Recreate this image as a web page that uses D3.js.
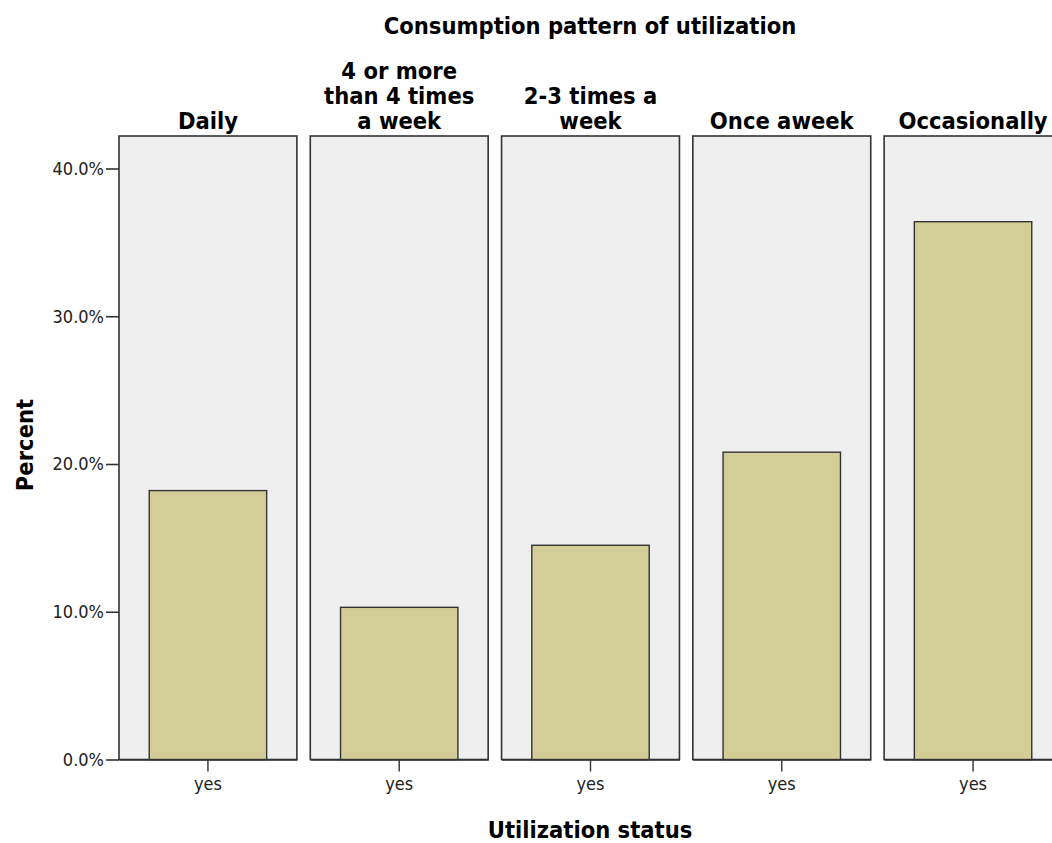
<!DOCTYPE html>
<html>
<head>
<meta charset="utf-8">
<script src="https://cdn.jsdelivr.net/npm/d3@7"></script>
<style>
  body { margin: 0; background: #fff; }
  text { font-family: "DejaVu Sans Condensed", "DejaVu Sans", sans-serif; font-stretch: condensed; }
</style>
</head>
<body>
<svg id="chart" width="1052" height="843"></svg>
<script>
// panels (facets) and the single bar each one holds
var panels = ["Daily", "4 or more than 4 times a week", "2-3 times a week", "Once aweek", "Occasionally"];
var panelLines = [["Daily"], ["4 or more", "than 4 times", "a week"], ["2-3 times a", "week"], ["Once aweek"], ["Occasionally"]];
var utilStatus = ["yes"];
var percent = [18.2, 10.3, 14.5, 20.8, 36.4];
var yTicks = [0, 10, 20, 30, 40];

var width = 1052, height = 843;
var svg = d3.select("#chart");

var plotTop = 136, plotBottom = 759.5;
var boldSize = "23.5px", tickSize = "18px";

var x = d3.scaleBand().domain(panels).range([119, 1062]).paddingInner(0.07).paddingOuter(0);
var y = d3.scaleLinear().domain([0, 42.2]).range([plotBottom, plotTop]);

// title
svg.append("text")
    .attr("x", 590).attr("y", 34)
    .attr("text-anchor", "middle")
    .style("font-size", "23.5px").style("font-weight", "bold")
    .text("Consumption pattern of utilization");

var g = svg.selectAll(".panel")
    .data(panels)
    .enter()
    .append("g")
    .attr("class", "panel")
    .attr("transform", function(d) { return "translate(" + x(d) + ",0)"; });

g.append("rect")
    .attr("x", 0).attr("y", plotTop)
    .attr("width", x.bandwidth())
    .attr("height", plotBottom - plotTop)
    .style("fill", "#efefef")
    .style("stroke", "#333")
    .style("stroke-width", 1.6);

// inner x scale for the bar within each panel
var xi = d3.scaleBand().domain(utilStatus).range([0, x.bandwidth()]).paddingInner(0.34).paddingOuter(0.17);

g.append("rect")
    .attr("x", xi("yes"))
    .attr("width", xi.bandwidth())
    .attr("y", function(d, i) { return y(percent[i]); })
    .attr("height", function(d, i) { return plotBottom - y(percent[i]); })
    .style("fill", "#d3cd97")
    .style("stroke", "#333")
    .style("stroke-width", 1.4);

// bottom axis per panel
g.append("g")
    .attr("transform", "translate(0," + plotBottom + ")")
    .each(function() {
        d3.select(this).call(d3.axisBottom(xi).tickSize(12).tickSizeOuter(0));
    })
    .call(function(a) {
        a.selectAll(".domain").style("stroke", "#333").style("stroke-width", 1.6);
        a.selectAll(".tick line").style("stroke", "#333").style("stroke-width", 1.4);
        a.selectAll(".tick text").attr("y", 30).attr("dy", null).style("font-size", tickSize).style("fill", "#222")
            .style("font-family", null);
    });

// panel headers
g.each(function(d, i) {
    var lines = panelLines[i];
    var t = d3.select(this).append("text")
        .attr("x", x.bandwidth() / 2)
        .attr("text-anchor", "middle")
        .style("font-size", boldSize).style("font-weight", "bold");
    lines.forEach(function(l, j) {
        t.append("tspan")
            .attr("x", x.bandwidth() / 2)
            .attr("y", 129 - (lines.length - 1 - j) * 25)
            .text(l);
    });
});

// y axis
var yAxis = svg.append("g")
    .attr("transform", "translate(119,0)")
    .call(d3.axisLeft(y).tickValues(yTicks).tickSize(13).tickSizeOuter(0)
        .tickFormat(function(d) { return d.toFixed(1) + "%"; }));
yAxis.select(".domain").remove();
yAxis.selectAll(".tick line").style("stroke", "#333").style("stroke-width", 1.6);
yAxis.selectAll(".tick text").attr("x", -15).style("font-size", tickSize).style("fill", "#222")
    .style("font-family", null);
yAxis.attr("font-family", null);
svg.selectAll(".panel g").attr("font-family", null);

// axis titles
svg.append("text")
    .attr("transform", "translate(33," + 445 + ") rotate(-90)")
    .attr("text-anchor", "middle")
    .style("font-size", boldSize).style("font-weight", "bold")
    .text("Percent");

svg.append("text")
    .attr("x", 590).attr("y", 838)
    .attr("text-anchor", "middle")
    .style("font-size", boldSize).style("font-weight", "bold")
    .text("Utilization status");
</script>
</body>
</html>
